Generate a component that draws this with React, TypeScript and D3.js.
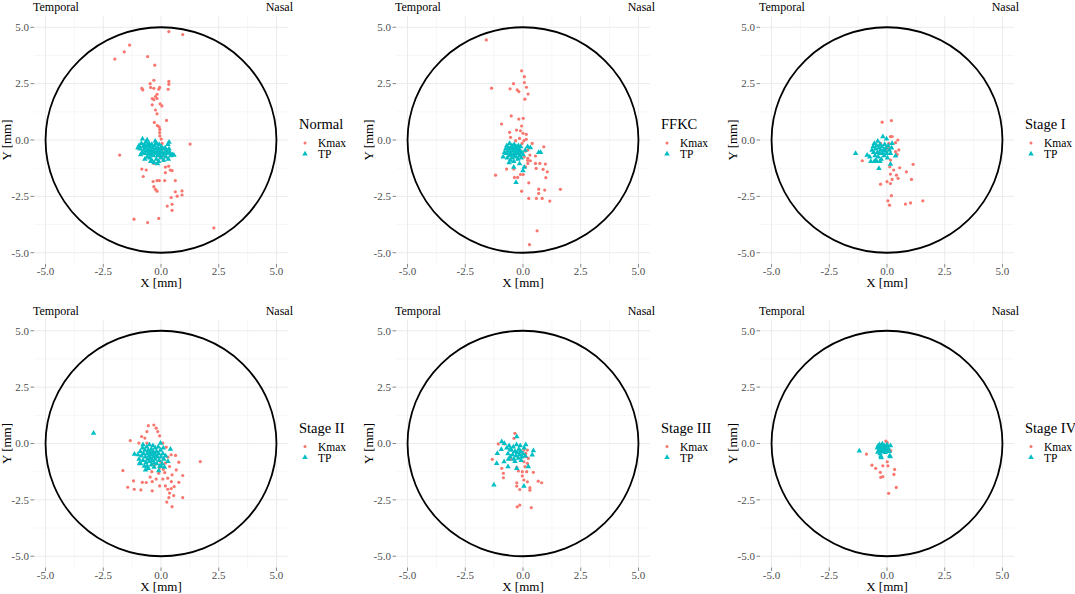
import * as d3 from 'd3';

type Pt = [number, number];

// ---- data (mm) ----
const normalKmax: Pt[] = [
  [0.34, 4.81], [0.94, 4.68], [-1.36, 4.21], [-1.59, 3.91], [-2.0, 3.59], [-0.58, 3.7], [-0.27, 3.32],
  [-0.31, 2.65], [-0.47, 2.5], [0.34, 2.6], [0.34, 2.47], [-0.83, 2.29], [-0.79, 2.22], [-0.45, 2.33],
  [-0.31, 2.29], [-0.1, 2.25], [-0.06, 2.33], [0.31, 2.25], [-0.17, 2.03], [-0.24, 1.93], [-0.17, 1.84],
  [-0.38, 1.84], [-0.31, 1.79], [-0.38, 1.56], [-0.04, 1.6], [0.04, 1.51], [-0.24, 1.33], [-0.17, 1.16],
  [0.24, 0.87], [-0.29, 0.78], [-0.16, 0.64], [-0.08, 0.58], [-0.05, 0.47], [-0.06, 0.33], [-0.05, 0.18],
  [0.01, 0.04], [1.26, -0.18], [-1.79, -0.67], [0.04, -0.4], [-0.03, -0.76], [0.11, -0.9], [-0.17, -1.04],
  [-0.31, -1.04], [-0.83, -1.29], [-0.64, -1.33], [-0.77, -1.62], [-0.34, -1.84], [-0.17, -1.8], [-0.07, -1.8],
  [0.16, -1.8], [0.62, -1.8], [0.19, -1.2], [0.33, -1.16], [0.4, -1.33], [0.48, -1.36], [0.19, -1.45],
  [-0.31, -2.07], [-0.24, -2.19], [-0.17, -2.27], [0.62, -2.3], [0.91, -2.26], [0.91, -2.44], [0.7, -2.49],
  [0.44, -2.55], [0.48, -2.85], [0.27, -2.93], [0.48, -3.12], [-1.17, -3.51], [-0.58, -3.66], [-0.1, -3.48],
  [2.29, -3.9], [0.05, -0.15], [-0.02, -0.55], [0.08, -0.7],
];
const normalTp: Pt[] = [
  [-0.95, -0.25], [-0.9, -0.4], [-0.85, -0.15], [-0.82, -0.55], [-0.8, 0.05], [-0.78, -0.3], [-0.75, -0.45],
  [-0.72, -0.2], [-0.7, -0.6], [-0.68, -0.35], [-0.65, -0.1], [-0.63, -0.5], [-0.6, -0.75], [-0.58, -0.25],
  [-0.55, -0.4], [-0.55, -0.6], [-0.52, -0.15], [-0.5, -0.5], [-0.48, -0.8], [-0.47, -0.3], [-0.45, -0.65],
  [-0.42, -0.45], [-0.4, -0.2], [-0.4, -0.9], [-0.38, -0.55], [-0.35, -0.35], [-0.33, -0.7], [-0.3, -0.5],
  [-0.3, -1.0], [-0.28, -0.25], [-0.25, -0.6], [-0.22, -0.4], [-0.2, -0.85], [-0.2, -0.15], [-0.18, -0.55],
  [-0.15, -0.7], [-0.12, -0.35], [-0.1, -0.5], [-0.1, -0.95], [-0.08, -0.2], [-0.05, -0.65], [-0.02, -0.45],
  [0.0, -0.8], [0.02, -0.3], [0.05, -0.55], [0.08, -0.7], [0.1, -0.4], [0.12, -0.9], [0.15, -0.6],
  [0.18, -0.35], [0.2, -0.5], [0.22, -0.75], [0.25, -0.45], [0.28, -0.6], [0.3, -0.2], [0.32, -0.85],
  [0.35, -0.4], [0.38, -0.55], [0.42, -0.7], [0.5, -0.65], [0.56, -0.67], [-1.0, -0.35], [-0.88, -0.65],
  [-0.6, 0.0], [-0.15, -1.05], [0.35, -0.1], [-0.45, -0.95], [-0.7, -0.85], [-0.25, -0.05],
];

const ffkcKmax: Pt[] = [
  [-1.59, 4.44], [-0.06, 3.07], [0.06, 2.81], [-0.41, 2.5], [0.06, 2.55], [-1.36, 2.3], [-0.56, 2.27],
  [-0.25, 2.22], [-0.18, 2.15], [0.15, 2.34], [0.22, 2.04], [0.08, 1.81], [-0.51, 1.07], [-0.18, 0.93],
  [0.01, 0.96], [-0.93, 0.71], [-0.06, 0.62], [-0.28, 0.44], [-0.11, 0.41], [-0.58, 0.34], [0.0, 0.3],
  [0.14, 0.25], [-0.54, 0.12], [-0.15, 0.07], [0.14, 0.03], [-0.32, -0.03], [0.04, -0.03], [0.4, -0.15],
  [0.9, -0.3], [-0.04, -0.15], [0.21, -0.44], [0.3, -0.67], [0.54, -0.71], [0.21, -0.81], [0.32, -0.92],
  [0.73, -1.04], [0.97, -1.07], [0.54, -1.04], [0.21, -1.04], [0.11, -1.19], [0.57, -1.26], [0.87, -1.3],
  [1.05, -1.41], [-0.71, -1.29], [-0.4, -1.29], [-0.11, -1.53], [0.01, -1.53], [-1.19, -1.56], [-0.37, -1.66],
  [-0.23, -1.66], [0.99, -1.67], [0.25, -1.9], [-0.06, -2.27], [0.68, -2.18], [0.68, -2.37], [0.94, -2.22],
  [1.62, -2.19], [0.25, -2.59], [0.58, -2.59], [0.83, -2.59], [1.16, -2.71], [0.61, -4.03], [0.28, -4.64],
  [-0.3, -0.6], [0.1, -0.5], [0.2, -0.9], [0.05, -0.75],
];
const ffkcTp: Pt[] = [
  [-0.75, -0.4], [-0.72, -0.6], [-0.7, -0.25], [-0.68, -0.8], [-0.65, -0.5], [-0.62, -0.35], [-0.6, -0.7],
  [-0.58, -0.15], [-0.55, -0.55], [-0.55, -0.9], [-0.52, -0.4], [-0.5, -0.65], [-0.48, -0.25], [-0.47, -0.8],
  [-0.45, -0.5], [-0.42, -0.35], [-0.4, -0.7], [-0.4, -0.95], [-0.38, -0.2], [-0.35, -0.55], [-0.33, -0.4],
  [-0.3, -0.75], [-0.3, -0.3], [-0.28, -0.6], [-0.25, -0.45], [-0.22, -0.85], [-0.2, -0.25], [-0.2, -0.6],
  [-0.18, -0.4], [-0.15, -0.7], [-0.12, -0.5], [-0.1, -0.3], [-0.08, -0.8], [-0.05, -0.55], [0.0, -0.65],
  [-0.86, -0.75], [-0.3, -1.88], [0.0, -1.36], [-0.4, -1.2], [0.32, -0.34], [0.76, -0.55], [0.68, -0.55],
  [-0.15, -1.05], [0.05, -1.2], [-0.6, -1.0], [0.2, -0.3], [-0.8, -0.55], [0.1, -0.45],
];

const stage1Kmax: Pt[] = [
  [-0.21, 0.79], [0.19, 0.86], [0.15, 0.15], [0.22, 0.15], [0.47, 0.0], [0.37, -0.12], [-0.28, -0.15],
  [0.51, -0.44], [0.37, -0.52], [0.44, -0.64], [-1.07, -0.92], [0.15, -0.89], [1.13, -1.08], [0.55, -1.23],
  [0.12, -1.19], [0.29, -1.33], [0.84, -1.41], [0.15, -1.51], [0.41, -1.56], [0.48, -1.7], [0.22, -1.75],
  [1.06, -1.75], [0.0, -1.85], [0.15, -1.93], [-0.28, -1.96], [0.19, -2.47], [0.04, -2.7], [0.11, -2.89],
  [0.8, -2.84], [1.02, -2.79], [1.55, -2.7], [0.08, -0.15], [0.05, -0.35], [-0.05, -0.45],
];
const stage1Tp: Pt[] = [
  [-0.6, -0.3], [-0.58, -0.55], [-0.55, -0.15], [-0.52, -0.7], [-0.5, -0.4], [-0.48, -0.9], [-0.45, -0.25],
  [-0.42, -0.55], [-0.4, -0.05], [-0.38, -0.75], [-0.35, -0.35], [-0.32, -0.6], [-0.3, -0.2], [-0.28, -0.45],
  [-0.25, -0.85], [-0.22, -0.3], [-0.2, -0.6], [-0.18, 0.15], [-0.15, -0.45], [-0.12, -0.7], [-0.1, -0.2],
  [-0.08, -0.5], [-0.05, -0.35], [0.0, -0.6], [0.02, -0.8], [0.05, -0.25], [0.1, -0.45], [0.15, -1.07],
  [0.22, -0.15], [0.37, -0.71], [-1.36, -0.59], [-0.86, -0.67], [-0.35, -1.26], [-0.7, -0.95], [-0.65, -0.45],
  [-0.45, -0.95], [-0.3, -0.95], [0.15, -0.6], [-0.02, 0.05], [0.2, -0.35], [-0.75, -0.75], [-0.55, -0.95],
];

const stage2Kmax: Pt[] = [
  [-0.55, 0.79], [-0.31, 0.82], [-0.21, 0.68], [-0.61, 0.53], [-0.14, 0.53], [-0.84, 0.31], [-0.06, 0.34],
  [-1.33, 0.13], [-0.7, 0.24], [-0.96, 0.02], [0.08, 0.02], [-0.61, 0.02], [0.23, -0.16], [0.44, -0.5],
  [0.63, -0.53], [1.7, -0.8], [0.77, -0.83], [0.19, -0.87], [0.37, -1.02], [-0.06, -1.09], [-1.65, -1.2],
  [0.66, -1.17], [0.16, -1.29], [-0.1, -1.32], [0.48, -1.39], [0.94, -1.42], [-0.47, -1.49], [-0.21, -1.58],
  [0.08, -1.58], [0.29, -1.54], [-1.19, -1.66], [-0.81, -1.72], [-0.64, -1.73], [-0.38, -1.69], [0.45, -1.69],
  [0.77, -1.72], [-0.06, -1.88], [0.19, -1.88], [0.57, -1.91], [-1.44, -1.94], [-1.16, -2.03], [-0.87, -2.06],
  [-0.38, -2.1], [0.29, -2.03], [0.44, -2.0], [0.37, -2.2], [0.55, -2.31], [0.94, -2.4], [0.34, -2.4],
  [0.25, -2.6], [0.48, -2.8], [-0.02, -0.8], [-0.29, -0.97], [0.3, -0.6], [0.1, -1.15], [-0.4, -1.25],
];
const stage2Tp: Pt[] = [
  [-1.0, -0.5], [-0.95, -0.7], [-0.9, -0.35], [-0.88, -0.9], [-0.85, -0.55], [-0.8, -0.2], [-0.78, -0.75],
  [-0.75, -0.45], [-0.72, -1.0], [-0.7, -0.3], [-0.68, -0.6], [-0.65, -0.85], [-0.62, -0.15], [-0.6, -0.45],
  [-0.58, -0.7], [-0.55, -0.3], [-0.55, -1.1], [-0.52, -0.55], [-0.5, -0.8], [-0.5, -0.05], [-0.48, -0.4],
  [-0.45, -0.65], [-0.42, -0.25], [-0.42, -0.95], [-0.4, -0.5], [-0.38, -0.75], [-0.35, -0.35], [-0.35, -0.1],
  [-0.32, -0.6], [-0.3, -0.85], [-0.28, -0.45], [-0.25, -0.2], [-0.25, -0.7], [-0.22, -0.55], [-0.2, -0.35],
  [-0.18, -0.9], [-0.15, -0.6], [-0.12, -0.15], [-0.1, -0.45], [-0.08, -0.75], [-0.05, -1.0], [-0.02, -0.3],
  [0.0, -0.6], [0.05, -0.9], [0.08, -0.45], [0.12, -0.7], [0.15, -1.05], [0.2, -0.55], [0.3, -0.8],
  [0.41, -0.25], [-1.15, -0.47], [-0.67, -1.17], [-0.93, -0.88], [-2.92, 0.46], [-0.02, 0.02], [-0.1, -1.2],
  [0.0, -1.0], [-0.6, -1.0], [-0.3, -1.05], [-0.78, -0.05], [0.1, -0.2],
];

const stage3Kmax: Pt[] = [
  [-0.35, 0.45], [-0.39, 0.23], [-1.07, -0.02], [-0.81, -0.02], [-1.33, -0.7], [-0.53, -0.7], [0.19, -0.29],
  [0.12, -0.44], [0.23, -0.66], [0.04, -0.81], [0.19, -0.88], [-0.92, -1.1], [-0.27, -1.06], [0.09, -1.03],
  [-0.2, -1.22], [-0.03, -1.25], [0.16, -1.25], [0.45, -1.28], [-0.85, -1.32], [-0.85, -1.52], [-0.03, -1.44],
  [0.04, -1.62], [0.19, -1.7], [0.66, -1.67], [0.81, -1.74], [-0.27, -1.74], [-0.27, -1.89], [0.3, -1.96],
  [0.3, -2.07], [-0.14, -2.04], [-0.25, -2.81], [-0.14, -2.73], [0.36, -2.84], [0.04, -0.29], [0.12, -0.58],
];
const stage3Tp: Pt[] = [
  [-0.92, 0.08], [-0.27, 0.3], [-0.81, 0.0], [-1.11, -0.44], [-0.94, -0.26], [-1.14, -0.88], [-0.82, -0.81],
  [-0.63, -0.7], [-0.65, -1.03], [-1.26, -1.84], [0.04, -1.89], [0.23, -1.03], [0.45, -0.32], [0.4, -0.51],
  [-0.27, -1.1], [-0.7, -0.2], [-0.65, -0.45], [-0.6, -0.1], [-0.55, -0.6], [-0.5, -0.3], [-0.45, -0.5],
  [-0.42, -0.15], [-0.4, -0.7], [-0.35, -0.35], [-0.3, -0.55], [-0.28, -0.05], [-0.25, -0.4], [-0.2, -0.65],
  [-0.18, -0.25], [-0.15, -0.5], [-0.12, -0.1], [-0.1, -0.35], [-0.05, -0.6], [0.0, -0.45], [0.05, -0.2],
  [0.1, -0.55], [-0.35, -0.8], [-0.55, -0.25], [-0.08, -0.75], [0.12, -0.05],
];

const stage4Kmax: Pt[] = [
  [-0.05, 0.11], [0.01, 0.04], [0.01, -0.14], [0.04, -0.29], [-0.89, -0.47], [0.01, -0.81], [0.04, -0.99],
  [-0.18, -0.99], [-0.65, -0.96], [-0.49, -1.1], [0.33, -1.15], [-0.29, -1.28], [0.3, -1.37], [-0.18, -1.47],
  [-0.27, -1.5], [0.4, -1.95], [0.07, -2.21], [0.16, -0.32],
];
const stage4Tp: Pt[] = [
  [-0.42, -0.2], [-0.38, -0.1], [-0.35, -0.3], [-0.32, -0.05], [-0.3, -0.2], [-0.28, -0.35], [-0.25, -0.12],
  [-0.22, -0.28], [-0.2, -0.02], [-0.18, -0.18], [-0.15, -0.35], [-0.12, -0.1], [-0.1, -0.25], [-0.08, -0.4],
  [-0.05, -0.15], [-0.02, -0.3], [0.0, -0.05], [0.05, -0.2], [0.1, -0.35], [0.15, -0.1], [-1.2, -0.33],
  [-0.25, -0.63], [0.12, -0.54], [0.14, -0.58], [-0.27, -0.56], [-0.3, -0.45], [-0.4, -0.38],
];

const groupNames = ['Normal', 'FFKC', 'Stage I', 'Stage II', 'Stage III', 'Stage IV'];
const kmaxSets = [normalKmax, ffkcKmax, stage1Kmax, stage2Kmax, stage3Kmax, stage4Kmax];
const tpSets = [normalTp, ffkcTp, stage1Tp, stage2Tp, stage3Tp, stage4Tp];
const seriesNames = ['Kmax', 'TP'];
const majorTicks = [-5, -2.5, 0, 2.5, 5];
const minorTicks = [-3.75, -1.25, 1.25, 3.75];
const sideLabels = ['Temporal', 'Nasal'];
const axisDomain: [number, number] = [-5.5, 5.5];
const limbusRadius = 5;

const W = 1075;
const H = 594;
const colX = [0, 362, 726];
const rowY = [0, 303.5];
const RED = '#F8766D';
const TEAL = '#00BFC4';
const FONT = "'Liberation Serif', 'Times New Roman', serif";

const triangle = d3.symbol().type(d3.symbolTriangle).size(13)()!;

function Panel({ ox, oy, name, kmax, tp }: { ox: number; oy: number; name: string; kmax: Pt[]; tp: Pt[] }) {
  const x = d3.scaleLinear().domain(axisDomain).range([ox + 34, ox + 288]);
  const y = d3.scaleLinear().domain(axisDomain).range([oy + 264, oy + 16]);
  const [x0, x1] = x.range();
  const [y0, y1] = y.range();
  const fmt = (v: number) => v.toFixed(1);

  return (
    <g>
      {/* grid */}
      {minorTicks.map(t => (
        <g key={'m' + t}>
          <line x1={x(t)} x2={x(t)} y1={y1} y2={y0} stroke="#F2F2F2" strokeWidth={0.6} />
          <line x1={x0} x2={x1} y1={y(t)} y2={y(t)} stroke="#F2F2F2" strokeWidth={0.6} />
        </g>
      ))}
      {majorTicks.map(t => (
        <g key={'M' + t}>
          <line x1={x(t)} x2={x(t)} y1={y1} y2={y0} stroke="#EBEBEB" strokeWidth={1} />
          <line x1={x0} x2={x1} y1={y(t)} y2={y(t)} stroke="#EBEBEB" strokeWidth={1} />
        </g>
      ))}

      {/* limbus circle */}
      <ellipse cx={x(0)} cy={y(0)} rx={x(limbusRadius) - x(0)} ry={y(0) - y(limbusRadius)}
        fill="none" stroke="#000" strokeWidth={1.8} />

      {/* points */}
      {kmax.map((d, i) => (
        <circle key={'k' + i} cx={x(d[0])} cy={y(d[1])} r={1.6} fill={RED} />
      ))}
      {tp.map((d, i) => (
        <path key={'t' + i} d={triangle} transform={`translate(${x(d[0])},${y(d[1])})`} fill={TEAL} />
      ))}

      {/* axes */}
      {majorTicks.map(t => (
        <g key={'ax' + t} fontFamily={FONT} fontSize={11} fill="#4D4D4D">
          <line x1={x0 - 3.5} x2={x0} y1={y(t)} y2={y(t)} stroke="#333" strokeWidth={0.6} />
          <text x={x0 - 5} y={y(t)} dy="0.35em" textAnchor="end">{fmt(t)}</text>
          <line x1={x(t)} x2={x(t)} y1={y0} y2={y0 + 3.5} stroke="#333" strokeWidth={0.6} />
          <text x={x(t)} y={y0 + 11} textAnchor="middle">{fmt(t)}</text>
        </g>
      ))}
      <text x={x(0)} y={oy + 287} textAnchor="middle" fontFamily={FONT} fontSize={13}>X [mm]</text>
      <text transform={`translate(${ox + 10.5},${y(0)}) rotate(-90)`} textAnchor="middle"
        fontFamily={FONT} fontSize={13}>Y [mm]</text>

      <text x={x0 - 1} y={oy + 11} fontFamily={FONT} fontSize={12}>{sideLabels[0]}</text>
      <text x={ox + 293} y={oy + 11} textAnchor="end" fontFamily={FONT} fontSize={12}>{sideLabels[1]}</text>

      {/* legend */}
      <g fontFamily={FONT}>
        <text x={ox + 299} y={oy + 129} fontSize={14.5}>{name}</text>
        <circle cx={ox + 305} cy={oy + 143} r={1.5} fill={RED} />
        <text x={ox + 318} y={oy + 147} fontSize={11.5}>{seriesNames[0]}</text>
        <path d={triangle} transform={`translate(${ox + 305},${oy + 154})`} fill={TEAL} />
        <text x={ox + 318} y={oy + 158} fontSize={11.5}>{seriesNames[1]}</text>
      </g>
    </g>
  );
}

export default function App() {
  return (
    <svg width={W} height={H} style={{ position: 'absolute', left: 0, top: 0, background: '#fff' }}>
      <rect width={W} height={H} fill="#fff" />
      {groupNames.map((name, i) => (
        <Panel key={name} ox={colX[i % 3]} oy={rowY[Math.floor(i / 3)]} name={name}
          kmax={kmaxSets[i]} tp={tpSets[i]} />
      ))}
    </svg>
  );
}
